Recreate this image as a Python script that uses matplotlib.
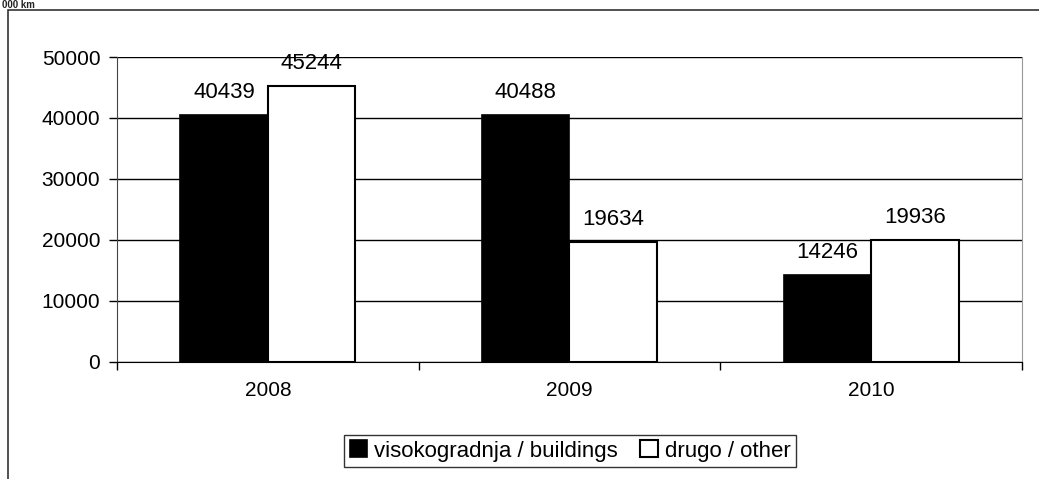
import numpy as np
import matplotlib as mpl
import matplotlib.pyplot as plt
from matplotlib.patches import Rectangle

mpl.rcParams["font.family"] = ["Liberation Sans", "DejaVu Sans"]

YEARS = ["2008", "2009", "2010"]
BUILDINGS = [40439, 40488, 14246]
OTHER = [45244, 19634, 19936]
SERIES = ["visokogradnja / buildings", "drugo / other"]

fig = plt.figure(figsize=(10.39, 4.79), dpi=100)
ax = fig.add_axes([0.1126, 0.2443, 0.8710, 0.6367])

# outer frame of the chart area (runs off the right/bottom edge)
fig.patches.append(Rectangle((8 / 1039, -0.2), 1.2, 1.2 - 10 / 479,
                             transform=fig.transFigure, fill=False,
                             edgecolor="#333333", lw=1.2))
fig.text(0.002, 0.999, "000 km", ha="left", va="top", fontsize=7,
         fontweight="bold", color="#222222")

x = np.arange(len(YEARS))
w = 0.29
ax.bar(x - w / 2, BUILDINGS, width=w, color="black", edgecolor="black",
       lw=1.2, label=SERIES[0], zorder=3)
ax.bar(x + w / 2, OTHER, width=w, color="white", edgecolor="black",
       lw=1.5, label=SERIES[1], zorder=3)

for i in range(len(YEARS)):
    for dx, v in ((-w / 2, BUILDINGS[i]), (w / 2, OTHER[i])):
        ax.annotate(f"{v}", (x[i] + dx, v), xytext=(0, 9), textcoords="offset points",
                    ha="center", va="bottom", fontsize=16, zorder=5)

ax.set_xlim(-0.5, len(YEARS) - 0.5)
ax.set_ylim(0, 50000)
ax.set_yticks(np.arange(0, 50001, 10000))
ax.yaxis.grid(True, color="black", lw=1.0, zorder=0)
ax.set_axisbelow(True)

ax.set_xticks(x)
ax.set_xticklabels(YEARS, fontsize=15)
ax.set_xticks(np.arange(-0.5, len(YEARS), 1.0), minor=True)
ax.tick_params(axis="x", which="major", length=0, pad=14)
ax.tick_params(axis="x", which="minor", length=6, width=1, direction="out")
ax.tick_params(axis="y", length=6, width=1, direction="out", labelsize=15, pad=6)

ax.spines["top"].set_visible(False)
ax.spines["right"].set_color("#999999")
ax.spines["left"].set_color("#444444")
ax.spines["bottom"].set_color("black")

leg = fig.legend(loc="center", bbox_to_anchor=(570 / 1039, 1 - 451 / 479), ncol=2,
                 fontsize=16, frameon=True, fancybox=False, edgecolor="black",
                 handlelength=0.8, handleheight=0.8, handletextpad=0.3,
                 columnspacing=1.0, borderpad=0.25, borderaxespad=0)
leg.get_frame().set_linewidth(1.0)

fig.savefig("out.png", dpi=100)
